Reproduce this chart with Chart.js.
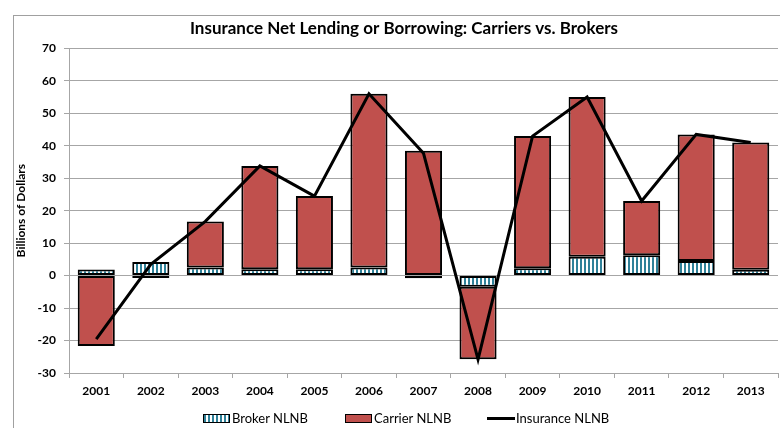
<!DOCTYPE html>
<html>
<head>
<meta charset="utf-8">
<script src="https://cdn.jsdelivr.net/npm/chart.js@4.4.1/dist/chart.umd.min.js"></script>
<style>
	html,body{margin:0;padding:0;background:#fff;overflow:hidden;}
	#wrap{position:relative;width:780px;height:428px;}
	#frame{position:absolute;left:13px;top:15px;width:900px;height:500px;border:1px solid #a0a0a0;}
	canvas{position:absolute;left:0;top:0;}
	#legend{position:absolute;left:203px;top:410px;height:16px;font-family:Lato,"Open Sans",sans-serif;font-size:13px;color:#000;}
	#legend .item{position:absolute;top:0;white-space:nowrap;line-height:16px;}
	#legend .sw{display:inline-block;width:25px;height:7px;border:1.5px solid #000;vertical-align:middle;margin-right:2px;position:relative;top:-1px;}
	#legend .ln{display:inline-block;width:28px;height:3px;background:#000;vertical-align:middle;margin-right:1px;position:relative;top:-1px;}
</style>
</head>
<body>
<div id="wrap">
	<div id="frame"></div>
	<canvas id="myChart" width="780" height="428"></canvas>
	<div id="legend"></div>
</div>
<script>
var years=['2001','2002','2003','2004','2005','2006','2007','2008','2009','2010','2011','2012','2013'];
var broker=[1.9,4.2,2.5,2.0,2.0,2.5,-0.8,-3.4,2.3,5.8,6.3,4.5,1.8];
var carrier=[-21.7,-0.7,14.2,31.8,22.5,53.5,38.5,-22.4,40.7,49.2,16.7,39.0,39.2];
var insurance=[-19.6,3.5,16.7,33.8,24.5,56.0,37.7,-25.8,43.0,55.0,23.0,43.5,41.0];
var yTicks=[70,60,50,40,30,20,10,0,-10,-20,-30];

var teal='#2f8199';
var red='#c0504d';

// striped fill for the broker bars
var pc=document.createElement('canvas');
pc.width=4;pc.height=4;
var px=pc.getContext('2d');
px.fillStyle='#fff';
px.fillRect(0,0,4,4);
px.fillStyle=teal;
px.fillRect(0,0,2,4);
var stripes=px.createPattern(pc,'repeat');

var font='Lato, "Open Sans", sans-serif';
var ctx=document.getElementById('myChart');
var data={
	labels:years,
	datasets:[
		{
			type:'bar',
			label:'Broker NLNB',
			data:broker,
			backgroundColor:stripes,
			borderColor:'#000',
			borderWidth:2,
			borderSkipped:false,
			stack:'s',
			order:1
		},
		{
			type:'bar',
			label:'Carrier NLNB',
			data:carrier,
			backgroundColor:red,
			borderColor:'#000',
			borderWidth:2,
			borderSkipped:false,
			stack:'s',
			order:1
		},
		{
			type:'line',
			label:'Insurance NLNB',
			data:insurance,
			borderColor:'#000',
			backgroundColor:'#000',
			borderWidth:3,
			pointRadius:0,
			tension:0,
			stack:'line',
			order:0
		}
	]
};
// nudge the title a bit right, like the original
var titleShift={
	id:'titleShift',
	afterLayout:function(c){
		if(c.titleBlock) c.titleBlock.left+=30;
	}
};
var myChart=new Chart(ctx,{
	type:'bar',
	data:data,
	plugins:[titleShift],
	options:{
		responsive:false,
		animation:false,
		devicePixelRatio:1,
		layout:{padding:{left:0,right:2,top:0,bottom:25}},
		datasets:{bar:{barPercentage:0.68,categoryPercentage:1}},
		plugins:{
			title:{
				display:true,
				text:'Insurance Net Lending or Borrowing: Carriers vs. Brokers',
				color:'#000',
				font:{family:font,size:17,weight:'bold'},
				padding:{top:18,bottom:10}
			},
			legend:{display:false},
			tooltip:{enabled:false}
		},
		scales:{
			x:{
				stacked:true,
				grid:{display:true,drawOnChartArea:false,drawTicks:true,tickLength:5,color:'#a6a6a6'},
				border:{display:false},
				ticks:{color:'#000',font:{family:font,size:12,weight:'bold'},padding:6,maxRotation:0},
				afterFit:function(s){s.height=30;}
			},
			y:{
				stacked:true,
				min:-30,
				max:70,
				afterBuildTicks:function(s){s.ticks=yTicks.map(function(v){return {value:v};});},
				grid:{color:'#a6a6a6',tickLength:5},
				border:{display:true,color:'#a6a6a6'},
				ticks:{color:'#000',font:{family:font,size:12,weight:'bold'},padding:8},
				title:{display:true,text:'Billions of Dollars',color:'#000',font:{family:font,size:12,weight:'bold'},padding:{top:14,bottom:0}},
				afterFit:function(s){s.width=69;}
			}
		}
	}
});

// html legend
var lg=document.getElementById('legend');
myChart.data.datasets.forEach(function(ds,i){
	var it=document.createElement('span');
	it.className='item';
	it.style.left=(i*142)+'px';
	var sw=document.createElement('span');
	if(ds.type=='line'){
		sw.className='ln';
	}else{
		sw.className='sw';
		if(i==0) sw.style.background='repeating-linear-gradient(90deg,'+teal+' 0 2px,#fff 2px 4px)';
		else sw.style.background=red;
	}
	it.appendChild(sw);
	it.appendChild(document.createTextNode(ds.label));
	lg.appendChild(it);
});
</script>
</body>
</html>
